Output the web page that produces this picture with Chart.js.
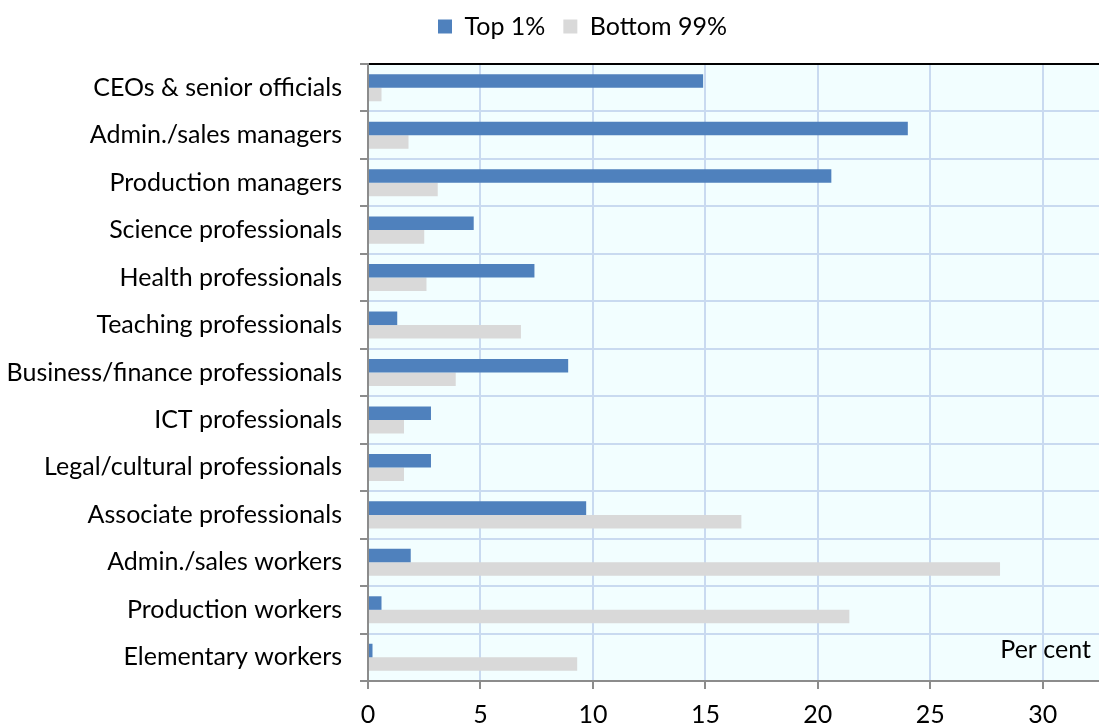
<!DOCTYPE html>
<html>
<head>
<meta charset="utf-8">
<script src="https://cdn.jsdelivr.net/npm/chart.js@4.4.1/dist/chart.umd.min.js"></script>
<style>
  html, body { margin: 0; padding: 0; background: #fff; }
  #wrap { width: 1099px; height: 724px; position: relative; }
</style>
</head>
<body>
<div id="wrap"><canvas id="occ"></canvas></div>
<script>
const occupations = [
  'CEOs & senior officials', 'Admin./sales managers', 'Production managers',
  'Science professionals', 'Health professionals', 'Teaching professionals',
  'Business/finance professionals', 'ICT professionals', 'Legal/cultural professionals',
  'Associate professionals', 'Admin./sales workers', 'Production workers', 'Elementary workers'
];
const top1 = [14.9, 24.0, 20.6, 4.7, 7.4, 1.3, 8.9, 2.8, 2.8, 9.7, 1.9, 0.6, 0.2];
const bottom99 = [0.6, 1.8, 3.1, 2.5, 2.6, 6.8, 3.9, 1.6, 1.6, 16.6, 28.1, 21.4, 9.3];
const xTicks = [0, 5, 10, 15, 20, 25, 30];
const unitLabel = 'Per cent';

const FONT = 'Lato';
const gridBlue = '#C9DAF0';
const axisGrey = '#8C8C8C';

// light cyan plot background
const plotBg = {
  id: 'plotBg',
  beforeDraw(chart) {
    const {ctx, chartArea: a} = chart;
    ctx.save();
    ctx.fillStyle = '#F2FEFF';
    ctx.fillRect(a.left, a.top, a.right - a.left, a.bottom - a.top);
    ctx.restore();
  }
};

// move the legend to where it sits in the original
const legendPlace = {
  id: 'legendPlace',
  afterUpdate(chart) {
    const lg = chart.legend;
    if (!lg || !lg.legendHitBoxes || !lg.legendHitBoxes.length) return;
    const dx = 438 - lg.legendHitBoxes[0].left;
    const dy = 14 - (lg.top + lg.options.labels.padding);
    lg.left += dx; lg.right += dx;
    lg.top += dy; lg.bottom += dy;
    lg.adjustHitBoxes();
  }
};

const unitText = {
  id: 'unitText',
  afterDatasetsDraw(chart) {
    const {ctx, chartArea: a} = chart;
    ctx.save();
    ctx.font = '25px ' + FONT;
    ctx.fillStyle = '#000';
    ctx.textAlign = 'right';
    ctx.textBaseline = 'alphabetic';
    ctx.fillText(unitLabel, a.right - 8, a.bottom - 23);
    ctx.restore();
  }
};

new Chart(document.getElementById('occ'), {
  type: 'bar',
  data: {
    labels: occupations,
    datasets: [
      { label: 'Top 1%', data: top1, backgroundColor: '#4F81BD', borderWidth: 0 },
      { label: 'Bottom 99%', data: bottom99, backgroundColor: '#D9D9D9', borderWidth: 0 }
    ]
  },
  options: {
    indexAxis: 'y',
    responsive: true,
    maintainAspectRatio: false,
    animation: false,
    categoryPercentage: 0.57,
    barPercentage: 1.0,
    layout: { padding: { top: 11, left: 0, right: 0, bottom: 0 } },
    plugins: {
      legend: {
        position: 'top',
        labels: {
          boxWidth: 14, boxHeight: 14, padding: 18,
          color: '#000', font: { family: FONT, size: 25 }
        }
      },
      tooltip: { enabled: false }
    },
    scales: {
      x: {
        type: 'linear',
        min: 0, max: 32.5,
        afterBuildTicks(scale) {
          scale.ticks = xTicks.map(v => ({ value: v }));
        },
        afterFit(scale) { scale.height = 43; },
        ticks: { color: '#000', padding: 11, font: { family: FONT, size: 25 } },
        grid: {
          color: c => c.index === 0 ? 'rgba(0,0,0,0)' : gridBlue,
          lineWidth: 2, tickLength: 8, tickColor: axisGrey, tickWidth: 2
        },
        border: { color: axisGrey, width: 2 }
      },
      y: {
        afterFit(scale) { scale.width = 368; },
        ticks: { color: '#000', padding: 18, autoSkip: false, font: { family: FONT, size: 25 } },
        grid: {
          offset: true,
          color: c => c.index === 0 ? '#000' : (c.index === occupations.length ? axisGrey : gridBlue),
          lineWidth: 2, tickLength: 8, tickColor: axisGrey, tickWidth: 2
        },
        border: { color: axisGrey, width: 2 }
      }
    }
  },
  plugins: [plotBg, legendPlace, unitText]
});
</script>
</body>
</html>
